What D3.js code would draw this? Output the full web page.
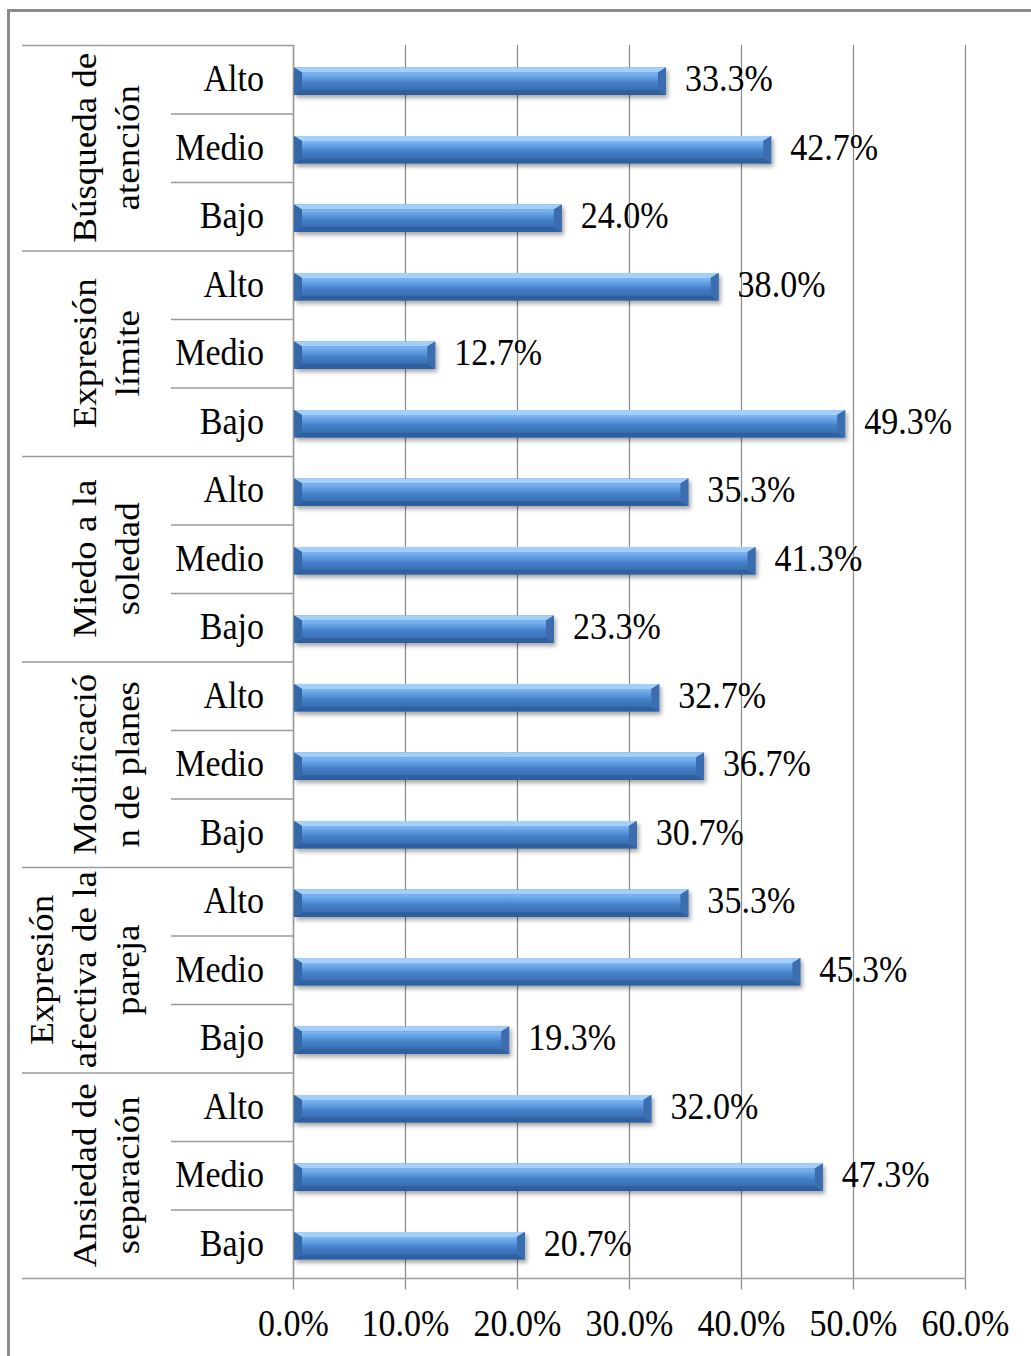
<!DOCTYPE html>
<html>
<head>
<meta charset="utf-8">
<script src="https://cdn.jsdelivr.net/npm/d3@7"></script>
<style>
  html, body { margin: 0; padding: 0; background: #fff; }
  svg { display: block; }
  text { font-family: "Liberation Serif", "Times New Roman", serif; fill: #000; }
</style>
</head>
<body>
<svg id="chart" width="1031" height="1356"></svg>
<script>
// Dimension groups (top to bottom), each label split into its drawn lines
const groups = [
  ["Búsqueda de", "atención"],
  ["Expresión", "límite"],
  ["Miedo a la", "soledad"],
  ["Modificació", "n de planes"],
  ["Expresión", "afectiva de la", "pareja"],
  ["Ansiedad de", "separación"]
];
const levels = ["Alto", "Medio", "Bajo"];

// Percentages per group, in the order Alto, Medio, Bajo
const busqueda   = [0.333, 0.427, 0.240];
const limite     = [0.380, 0.127, 0.493];
const soledad    = [0.353, 0.413, 0.233];
const planes     = [0.327, 0.367, 0.307];
const afectiva   = [0.353, 0.453, 0.193];
const separacion = [0.320, 0.473, 0.207];
const groupValues = [busqueda, limite, soledad, planes, afectiva, separacion];

const xTicks = [0, 0.1, 0.2, 0.3, 0.4, 0.5, 0.6];

// Flatten to one row per bar
const rows = [];
groups.forEach((g, gi) => levels.forEach((lv, li) => {
  rows.push({ id: gi * 3 + li, group: gi, level: lv, value: groupValues[gi][li] });
}));

const svg = d3.select("#chart");
const plotTop = 45, plotBottom = 1278, plotLeft = 293, plotRight = 965;
const catLeft = 22, subLeft = 171;
const fontSize = 37, squeeze = 0.92;   // condensed serif lettering

const x = d3.scaleLinear().domain([0, 0.6]).range([plotLeft, plotRight]);
const y = d3.scaleBand().domain(rows.map(r => r.id))
  .range([plotTop + 2, plotBottom + 2]).paddingInner(0.6).paddingOuter(0.3);
const rowY = d3.scaleBand().domain(rows.map(r => r.id)).range([plotTop, plotBottom]);
const groupY = d3.scaleBand().domain(d3.range(groups.length)).range([plotTop, plotBottom]);

// Outer chart frame (extends beyond the canvas on the right and bottom)
svg.append("rect").attr("x", 8.5).attr("y", 10.5).attr("width", 1100).attr("height", 1500)
  .attr("fill", "none").attr("stroke", "#8c8c8c").attr("stroke-width", 3);

const defs = svg.append("defs");
const face = defs.append("linearGradient").attr("id", "face").attr("x1", 0).attr("y1", 0).attr("x2", 0).attr("y2", 1);
face.append("stop").attr("offset", "0%").attr("stop-color", "#7fb8f2");
face.append("stop").attr("offset", "35%").attr("stop-color", "#5b98df");
face.append("stop").attr("offset", "60%").attr("stop-color", "#4480c8");
face.append("stop").attr("offset", "100%").attr("stop-color", "#3a6fb2");
const shadow = defs.append("filter").attr("id", "shadow")
  .attr("x", "-5%").attr("y", "-30%").attr("width", "115%").attr("height", "180%");
shadow.append("feDropShadow").attr("dx", 2).attr("dy", 3).attr("stdDeviation", 2.2)
  .attr("flood-color", "#000").attr("flood-opacity", 0.35);

// Vertical gridlines
const grid = d3.axisBottom(x).tickValues(xTicks).tickSize(-(plotBottom - plotTop)).tickFormat("");
svg.append("g").attr("transform", `translate(0,${plotBottom})`).call(grid)
  .call(g => g.select(".domain").remove())
  .call(g => g.selectAll("line").attr("stroke", "#8a8a8a").attr("stroke-width", 1.2));

// Category axis: group separators and level separators
const sepColor = "#9a9a9a";
d3.range(groups.length + 1).forEach(i => {
  const yy = i < groups.length ? groupY(i) : plotBottom;
  svg.append("line").attr("x1", catLeft).attr("x2", plotLeft)
    .attr("y1", yy + 0.5).attr("y2", yy + 0.5).attr("stroke", sepColor).attr("stroke-width", 1.5);
});
rows.filter(r => r.id % 3 !== 0).forEach(r => {
  svg.append("line").attr("x1", subLeft).attr("x2", plotLeft)
    .attr("y1", rowY(r.id) + 0.5).attr("y2", rowY(r.id) + 0.5)
    .attr("stroke", sepColor).attr("stroke-width", 1.5);
});
svg.append("line").attr("x1", plotLeft + 0.5).attr("x2", plotLeft + 0.5)
  .attr("y1", plotTop).attr("y2", plotBottom).attr("stroke", sepColor).attr("stroke-width", 1.5);

// Value axis
const xAxis = d3.axisBottom(x).tickValues(xTicks).tickSize(11).tickPadding(20).tickFormat(d3.format(".1%"));
svg.append("g").attr("transform", `translate(0,${plotBottom + 0.5})`).call(xAxis)
  .call(g => g.select(".domain").remove())
  .call(g => g.selectAll("line").attr("stroke", "#8a8a8a").attr("stroke-width", 1.2))
  .call(g => g.selectAll("text").attr("font-size", fontSize).attr("fill", "#000")
    .attr("font-family", "Liberation Serif, Times New Roman, serif")
    .attr("transform", `scale(${squeeze},1)`));
svg.append("line").attr("x1", plotLeft).attr("x2", plotRight)
  .attr("y1", plotBottom + 0.5).attr("y2", plotBottom + 0.5).attr("stroke", sepColor).attr("stroke-width", 1.5);

// Bevelled bars
const b = 8, t = 5;
const bars = svg.append("g").selectAll("g").data(rows).join("g").attr("filter", "url(#shadow)");
bars.each(function (d) {
  const g = d3.select(this);
  const x0 = x(0) + 1, x1 = x(d.value), y0 = y(d.id), y1 = y(d.id) + y.bandwidth();
  const poly = pts => pts.map(p => p.join(",")).join(" ");
  g.append("rect").attr("x", x0).attr("y", y0).attr("width", x1 - x0).attr("height", y1 - y0).attr("fill", "#3d73b8");
  g.append("polygon").attr("points", poly([[x0, y0], [x1, y0], [x1 - b, y0 + t], [x0 + b, y0 + t]])).attr("fill", "#a2d0fa");
  g.append("polygon").attr("points", poly([[x0, y1], [x1, y1], [x1 - b, y1 - t], [x0 + b, y1 - t]])).attr("fill", "#2f5f9f");
  g.append("polygon").attr("points", poly([[x0, y0], [x0 + b, y0 + t], [x0 + b, y1 - t], [x0, y1]])).attr("fill", "#3567a8");
  g.append("polygon").attr("points", poly([[x1, y0], [x1 - b, y0 + t], [x1 - b, y1 - t], [x1, y1]])).attr("fill", "#3a6db0");
  g.append("rect").attr("x", x0 + b).attr("y", y0 + t).attr("width", Math.max(0, x1 - x0 - 2 * b))
    .attr("height", y1 - y0 - 2 * t).attr("fill", "url(#face)");
});

// Value labels
svg.append("g").selectAll("text").data(rows).join("text")
  .attr("transform", d => `translate(${x(d.value) + 19},${rowY(d.id) + rowY.bandwidth() / 2 + 12}) scale(${squeeze},1)`)
  .attr("font-size", fontSize)
  .text(d => d3.format(".1%")(d.value));

// Level labels
svg.append("g").selectAll("text").data(rows).join("text")
  .attr("transform", d => `translate(264,${rowY(d.id) + rowY.bandwidth() / 2 + 12}) scale(${squeeze},1)`)
  .attr("text-anchor", "end")
  .attr("font-size", fontSize)
  .text(d => d.level);

// Rotated group labels
groups.forEach((lines, gi) => {
  const cy = groupY(gi) + groupY.bandwidth() / 2;
  const n = lines.length;
  lines.forEach((ln, i) => {
    const bx = 139 - 43 * (n - 1 - i);
    svg.append("text")
      .attr("transform", `translate(${bx},${cy}) scale(${squeeze},1) rotate(-90)`)
      .attr("text-anchor", "middle")
      .attr("font-size", fontSize)
      .text(ln);
  });
});
</script>
</body>
</html>
